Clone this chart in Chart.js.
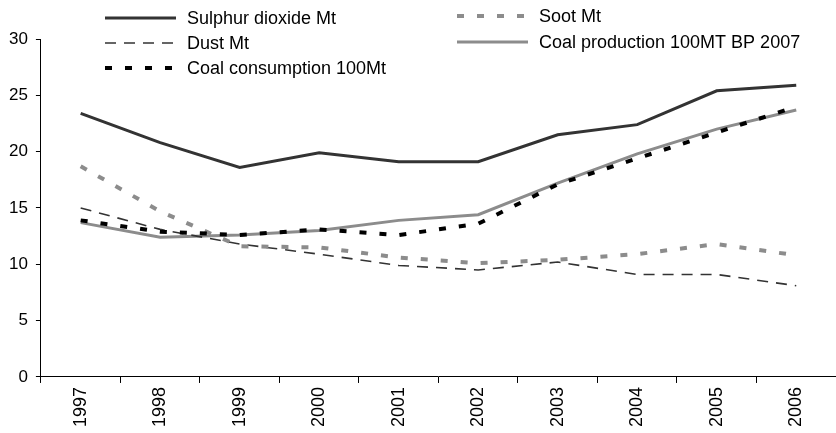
<!DOCTYPE html>
<html>
<head>
<meta charset="utf-8">
<script src="https://cdn.jsdelivr.net/npm/chart.js@4.4.1/dist/chart.umd.min.js"></script>
<style>
  html, body { margin: 0; padding: 0; background: #fff; }
  #wrap { width: 836px; height: 433px; }
</style>
</head>
<body>
<div id="wrap"><canvas id="chart" width="836" height="433"></canvas></div>
<script>
// Data
const years = ['1997', '1998', '1999', '2000', '2001', '2002', '2003', '2004', '2005', '2006'];
const sulphurDioxide = [23.4, 20.8, 18.6, 19.9, 19.1, 19.1, 21.5, 22.4, 25.4, 25.9];
const dust = [15.0, 13.1, 11.8, 10.9, 9.9, 9.5, 10.2, 9.1, 9.1, 8.1];
const coalConsumption = [13.9, 12.9, 12.6, 13.1, 12.6, 13.6, 17.1, 19.4, 21.7, 24.0];
const soot = [18.7, 14.7, 11.6, 11.5, 10.6, 10.1, 10.4, 10.9, 11.8, 10.8];
const coalProduction = [13.7, 12.4, 12.6, 13.0, 13.9, 14.4, 17.2, 19.8, 22.0, 23.7];
const yTicks = [0, 5, 10, 15, 20, 25, 30];

const FONT = 'Liberation Sans, Arial, sans-serif';

// Legend drawn in two columns above the plot, like the original
const legendPlugin = {
    id: 'twoColLegend',
    afterDraw(chart) {
        const ctx = chart.ctx;
        const slots = [
            { x: 105, y: 18 },  // Sulphur dioxide
            { x: 105, y: 43 },  // Dust
            { x: 105, y: 68 },  // Coal consumption
            { x: 457, y: 16 },  // Soot
            { x: 457, y: 42 }   // Coal production
        ];
        chart.data.datasets.forEach((ds, i) => {
            const s = slots[i];
            ctx.save();
            ctx.strokeStyle = ds.borderColor;
            ctx.lineWidth = ds.borderWidth;
            ctx.setLineDash(ds.borderDash || []);
            ctx.beginPath();
            ctx.moveTo(s.x, s.y);
            ctx.lineTo(s.x + 71, s.y);
            ctx.stroke();
            ctx.setLineDash([]);
            ctx.fillStyle = '#000';
            ctx.font = '18px ' + FONT;
            ctx.textBaseline = 'middle';
            ctx.textAlign = 'left';
            ctx.fillText(ds.label, s.x + 82, s.y + 1);
            ctx.restore();
        });
    }
};

const ctx = document.getElementById('chart').getContext('2d');
new Chart(ctx, {
    type: 'line',
    data: {
        labels: years,
        datasets: [
            {
                label: 'Sulphur dioxide Mt',
                data: sulphurDioxide,
                borderColor: '#333333',
                borderWidth: 3,
                order: 1
            },
            {
                label: 'Dust Mt',
                data: dust,
                borderColor: '#333333',
                borderWidth: 1.6,
                borderDash: [11, 8],
                order: 3
            },
            {
                label: 'Coal consumption 100Mt',
                data: coalConsumption,
                borderColor: '#000000',
                borderWidth: 4,
                borderDash: [7, 13],
                order: 0
            },
            {
                label: 'Soot Mt',
                data: soot,
                borderColor: '#8c8c8c',
                borderWidth: 4,
                borderDash: [7, 13],
                order: 2
            },
            {
                label: 'Coal production 100MT BP 2007',
                data: coalProduction,
                borderColor: '#8c8c8c',
                borderWidth: 3,
                order: 4
            }
        ]
    },
    options: {
        responsive: false,
        animation: false,
        devicePixelRatio: 1,
        layout: { padding: { top: 39, left: 1, right: 0, bottom: 2 } },
        elements: {
            line: { tension: 0, fill: false },
            point: { radius: 0, hoverRadius: 0 }
        },
        plugins: {
            legend: { display: false },
            tooltip: { enabled: false }
        },
        scales: {
            x: {
                offset: true,
                grid: {
                    offset: true,
                    drawOnChartArea: false,
                    drawTicks: true,
                    tickLength: 6,
                    color: '#000'
                },
                border: { color: '#000', width: 1 },
                ticks: {
                    minRotation: 90,
                    maxRotation: 90,
                    autoSkip: false,
                    padding: 4,
                    color: '#000',
                    font: { family: FONT, size: 18 }
                }
            },
            y: {
                min: 0,
                max: 30,
                afterBuildTicks(axis) {
                    axis.ticks = yTicks.map(v => ({ value: v }));
                },
                grid: {
                    drawOnChartArea: false,
                    drawTicks: true,
                    tickLength: 5,
                    color: '#000'
                },
                border: { color: '#000', width: 1 },
                ticks: {
                    padding: 8,
                    color: '#000',
                    font: { family: FONT, size: 17 }
                }
            }
        }
    },
    plugins: [legendPlugin]
});
</script>
</body>
</html>
